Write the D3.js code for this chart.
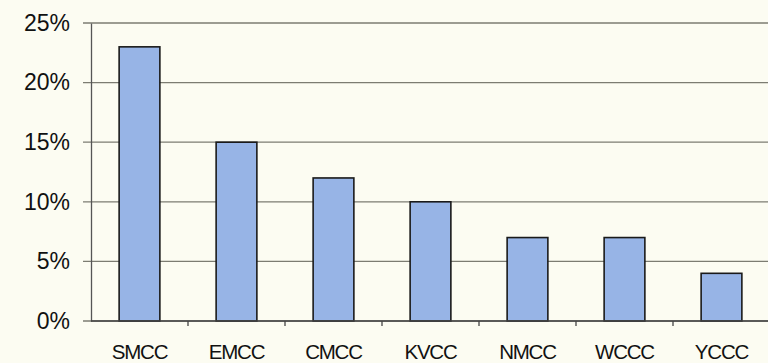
<!DOCTYPE html>
<html>
<head>
<meta charset="utf-8">
<script src="https://cdn.jsdelivr.net/npm/d3@7"></script>
<style>
  html, body { margin: 0; padding: 0; background: #fcfcf2; }
  svg { display: block; }
</style>
</head>
<body>
<svg id="chart" width="768" height="363"></svg>
<script>
// Share of total by college
const categories = ["SMCC", "EMCC", "CMCC", "KVCC", "NMCC", "WCCC", "YCCC"];
const shares = [23, 15, 12, 10, 7, 7, 4];
const yTicks = [0, 5, 10, 15, 20, 25];

const svg = d3.select("#chart");
const margin = { top: 23, right: -2, bottom: 42, left: 91 };
const W = 768, H = 363;

const x = d3.scaleBand()
  .domain(categories)
  .range([margin.left, W - margin.right])
  .paddingInner(0.58)
  .paddingOuter(0.29);

const y = d3.scaleLinear()
  .domain([0, 25])
  .range([H - margin.bottom, margin.top]);

// horizontal gridlines
svg.append("g")
  .selectAll("line")
  .data(yTicks)
  .join("line")
  .attr("x1", margin.left - 8)
  .attr("x2", W)
  .attr("y1", d => y(d))
  .attr("y2", d => y(d))
  .attr("stroke", "#7c7c72")
  .attr("stroke-width", 1.3);

// bars
svg.append("g")
  .selectAll("rect")
  .data(categories)
  .join("rect")
  .attr("x", d => x(d))
  .attr("width", x.bandwidth())
  .attr("y", (d, i) => y(shares[i]))
  .attr("height", (d, i) => y(0) - y(shares[i]))
  .attr("fill", "#97b4e6")
  .attr("stroke", "#1a1a1a")
  .attr("stroke-width", 1.6);

// y axis
const yAxis = svg.append("g")
  .attr("transform", `translate(${margin.left},0)`)
  .call(d3.axisLeft(y).tickValues(yTicks).tickFormat(d => d + "%").tickSize(0).tickPadding(21));
yAxis.select(".domain").attr("stroke", "#555").attr("stroke-width", 1.3);
yAxis.selectAll("text")
  .attr("font-family", "Liberation Sans, Arial, sans-serif")
  .attr("font-size", 23)
  .attr("fill", "#111");

// x axis with tick marks between categories
const step = x.step();
const xAxis = svg.append("g")
  .attr("transform", `translate(0,${y(0)})`);
xAxis.append("line")
  .attr("x1", margin.left).attr("x2", W)
  .attr("stroke", "#444").attr("stroke-width", 1.5);
xAxis.selectAll("line.tick")
  .data(categories.slice(1))
  .join("line")
  .attr("class", "tick")
  .attr("x1", d => x(d) - step * 0.29)
  .attr("x2", d => x(d) - step * 0.29)
  .attr("y1", 0).attr("y2", 5)
  .attr("stroke", "#444").attr("stroke-width", 1.3);
xAxis.selectAll("text")
  .data(categories)
  .join("text")
  .attr("x", d => x(d) + x.bandwidth() / 2)
  .attr("y", 38)
  .attr("text-anchor", "middle")
  .attr("font-family", "Liberation Sans, Arial, sans-serif")
  .attr("font-size", 20.5)
  .attr("letter-spacing", -1.2)
  .attr("fill", "#111")
  .text(d => d);
</script>
</body>
</html>
